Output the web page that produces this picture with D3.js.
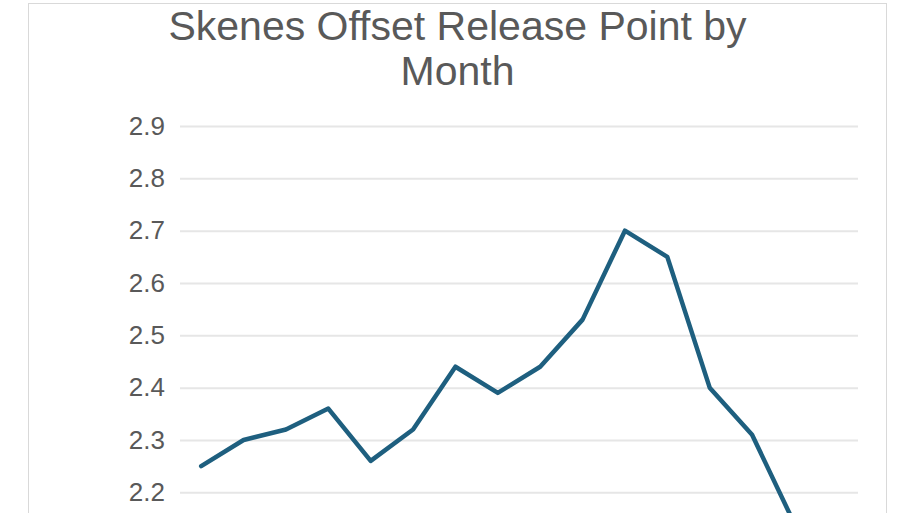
<!DOCTYPE html>
<html>
<head>
<meta charset="utf-8">
<title>Skenes Offset Release Point by Month</title>
<script src="https://d3js.org/d3.v7.min.js"></script>
<style>
  body { margin: 0; overflow: hidden; background: #fff; }
  svg { display: block; font-family: "Liberation Sans", Arial, sans-serif; }
  .grid line { stroke: #e6e6e6; stroke-width: 2; }
  .grid text { fill: #595959; font-size: 26px; }
</style>
</head>
<body>
<svg id="chart" width="912" height="513"></svg>
<script>
// data; the last two months fall below the visible area,
// and so does the month axis, so only the category positions are used here
var months = ["Jun-24", "Jul-24", "Aug-24", "Sep-24", "Oct-24", "Nov-24", "Dec-24", "Jan-25",
              "Feb-25", "Mar-25", "Apr-25", "May-25", "Jun-25", "Jul-25", "Aug-25", "Sep-25"];
var offset = [2.25, 2.30, 2.32, 2.36, 2.26, 2.32, 2.44, 2.39,
              2.44, 2.53, 2.70, 2.65, 2.40, 2.31, 2.14, 2.10];
var yTicks = [2.2, 2.3, 2.4, 2.5, 2.6, 2.7, 2.8, 2.9];
var titleLines = ["Skenes Offset Release Point by", "Month"];

var svg = d3.select("#chart"),
    margin = {top: 126, left: 180, right: 54},
    width = 912 - margin.left - margin.right,
    height = 0.9 * 523.3;   // plot runs down to 2.0, past the bottom of the picture

// chart frame
svg.append("rect")
    .attr("x", 28.5).attr("y", 3.5)
    .attr("width", 858).attr("height", 700)
    .attr("fill", "#fff")
    .attr("stroke", "#d9d9d9");

// title
svg.append("text")
    .attr("text-anchor", "middle")
    .attr("fill", "#595959")
    .style("font-size", "41px")
    .selectAll("tspan")
    .data(titleLines)
    .enter().append("tspan")
    .attr("x", 457.5)
    .attr("y", function(d, i) { return 40 + i * 45; })
    .text(function(d) { return d; });

var g = svg.append("g")
    .attr("transform", "translate(" + margin.left + "," + margin.top + ")");

var x = d3.scaleBand().domain(months).range([0, width]);
var y = d3.scaleLinear().domain([2.0, 2.9]).range([height, 0]);

g.append("g")
    .attr("class", "grid")
    .call(d3.axisLeft(y)
        .tickValues(yTicks)
        .tickFormat(d3.format(".1f"))
        .tickSizeInner(-width)
        .tickSizeOuter(0)
        .tickPadding(15))
    .call(function(a) { a.select(".domain").remove(); });

var line = d3.line()
    .x(function(d, i) { return x(months[i]) + x.bandwidth() / 2; })
    .y(function(d) { return y(d); });

g.append("path")
    .datum(offset)
    .attr("fill", "none")
    .attr("stroke", "#1e5f7f")
    .attr("stroke-width", 4.5)
    .attr("stroke-linejoin", "round")
    .attr("stroke-linecap", "round")
    .attr("d", line);
</script>
</body>
</html>
